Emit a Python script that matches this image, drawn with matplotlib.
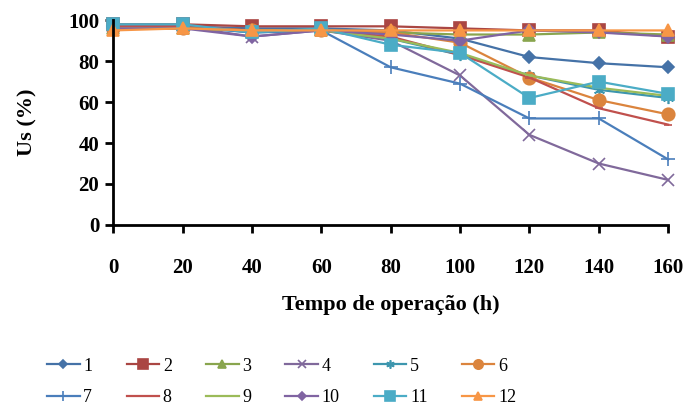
import matplotlib.pyplot as plt
import numpy as np

# tempo de operacao (h)
tempo = [0, 20, 40, 60, 80, 100, 120, 140, 160]

# Us (%) de cada serie
s1 = [97, 97, 96, 96, 95, 91, 82, 79, 77]
s2 = [98, 98, 97, 97, 97, 96, 95, 95, 92]
s3 = [96, 96, 95, 95, 94, 93, 93, 94, 93]
s4 = [97, 97, 92, 95, 90, 73, 44, 30, 22]
s5 = [97, 97, 94, 95, 91, 83, 73, 66, 62]
s6 = [96, 96, 95, 95, 94, 89, 72, 61, 54]
s7 = [97, 97, 94, 95, 77, 69, 52, 52, 32]
s8 = [97, 97, 95, 95, 92, 83, 72, 57, 49]
s9 = [96, 96, 95, 95, 91, 84, 73, 67, 63]
s10 = [96, 96, 92, 95, 93, 90, 95, 94, 92]
s11 = [98, 98, 94, 96, 88, 84, 62, 70, 64]
s12 = [95, 96, 95, 95, 95, 95, 95, 95, 95]

series = [s1, s2, s3, s4, s5, s6, s7, s8, s9, s10, s11, s12]
labels = [str(i) for i in range(1, 13)]

# estilo tipo Excel 2007
colors = ["#4572A7", "#AA4643", "#89A54E", "#80699B", "#3D96AE", "#DB843D",
          "#4A7EBB", "#C0504D", "#9BBB59", "#8064A2", "#4BACC6", "#F79646"]
markers = ["D", "s", "^", "x", (6, 2, 0), "o", "+", "_", "_", "D", "s", "^"]
msizes = [6, 9, 8, 8, 8, 9, 10, 6, 6, 6, 9, 8]

plt.rcParams['font.family'] = ['Liberation Serif', 'DejaVu Serif']

fig = plt.figure(figsize=(6.86, 4.12), dpi=100)
ax = fig.add_axes([0.165, 0.454, 0.809, 0.497])

lines = []
for s, lab, c, m, ms in zip(series, labels, colors, markers, msizes):
    ln, = ax.plot(tempo, s, color=c, marker=m, markersize=ms, linewidth=1.6,
                  markeredgewidth=1.2, label=lab, clip_on=False)
    lines.append(ln)

ax.set_xlim(0, 160)
ax.set_ylim(0, 100)
ax.set_xticks(np.arange(0, 161, 20))
ax.set_yticks(np.arange(0, 101, 20))
for sp in ["top", "right"]:
    ax.spines[sp].set_visible(False)
for sp in ["left", "bottom"]:
    ax.spines[sp].set_linewidth(2)
ax.tick_params(axis="both", width=2, length=6, labelsize=15)
ax.tick_params(axis="x", pad=18)
ax.tick_params(axis="y", pad=4)
for t in ax.get_xticklabels() + ax.get_yticklabels():
    t.set_fontweight("bold")

ax.set_xlabel("Tempo de operação (h)", fontsize=16, fontweight="bold", labelpad=12)
ax.set_ylabel("Us (%)", fontsize=16, fontweight="bold", labelpad=22)

# legenda preenchida por linhas (1-6 em cima, 7-12 em baixo)
order = []
for k in range(6):
    order += [k, k + 6]
fig.legend([lines[i] for i in order], [labels[i] for i in order],
           loc="lower left", bbox_to_anchor=(0.045, -0.025), ncol=6, frameon=False,
           fontsize=13, handlelength=1.8, handletextpad=0.2, columnspacing=1.9,
           labelspacing=0.8, markerscale=0.75)

plt.savefig("out.png", dpi=100)
